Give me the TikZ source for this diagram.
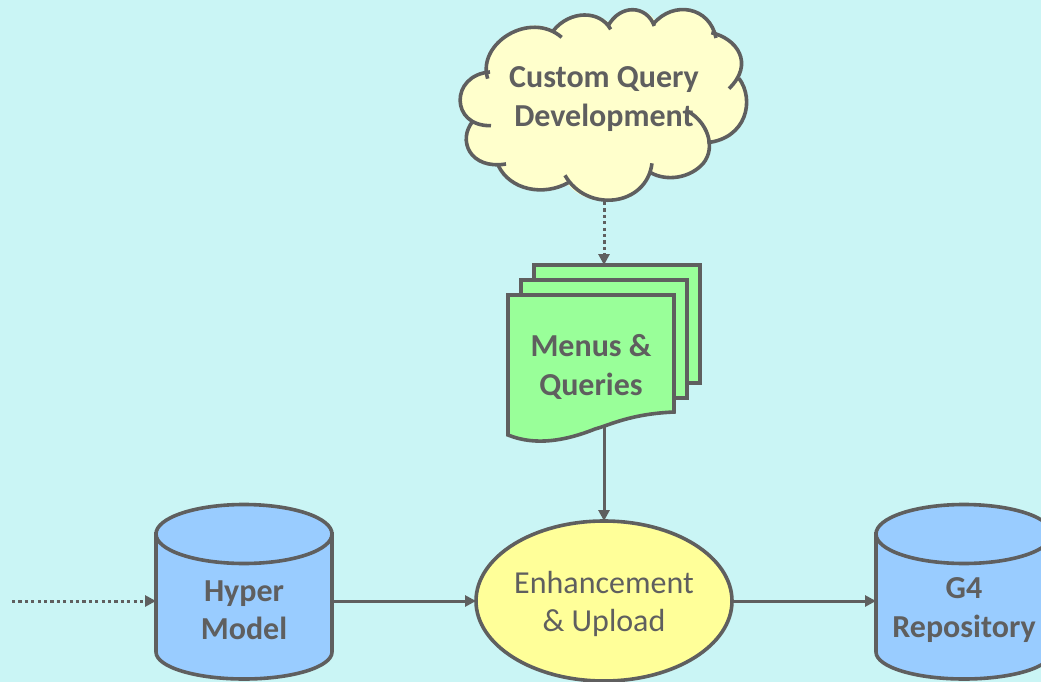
\documentclass[tikz,border=0pt]{standalone}
\usepackage{fontspec}
\setmainfont{Carlito}
\usetikzlibrary{arrows.meta,calc,shapes.geometric}
\definecolor{bgc}{HTML}{CAF5F5}
\definecolor{linec}{HTML}{5F5F5F}
\definecolor{cloudc}{HTML}{FFFFCC}
\definecolor{docc}{HTML}{99FF99}
\definecolor{cylc}{HTML}{99CCFF}
\definecolor{ellc}{HTML}{FFFF99}
\tikzset{
  shapeline/.style={draw=linec,line width=3.6pt,line join=miter},
  conn/.style={draw=linec,line width=3pt,-{Triangle[length=11pt,width=11pt]}},
  dotconn/.style={conn,dash pattern=on 3.2pt off 3.2pt},
  boldlabel/.style={text=linec,font=\fontsize{32}{38.5}\selectfont\bfseries,align=center,inner sep=0pt},
  plainlabel/.style={text=linec,font=\fontsize{32}{38.5}\selectfont,align=center,inner sep=0pt},
  ghost/.style={inner sep=0pt,outer sep=0pt,minimum width=176pt,minimum height=20pt,draw=none},
}
\begin{document}
\begin{tikzpicture}[x=1pt,y=-1pt]
\useasboundingbox (0,0) rectangle (1041,682);
\fill[bgc] (0,0) rectangle (1041,682);

% cloud (coordinates are those of a 3x crop)
\begin{scope}[shift={(440,0)},x=0.3333pt,y=-0.3333pt]
  \fill[cloudc] (140,225) .. controls (120,130) and (250,40) .. (345,92)
    .. controls (390,30) and (480,35) .. (510,72)
    .. controls (550,10) and (620,20) .. (645,62)
    .. controls (710,0) and (810,30) .. (820,98)
    .. controls (890,120) and (925,180) .. (897,235)
    .. controls (945,300) and (920,410) .. (805,428)
    .. controls (810,510) and (700,560) .. (632,518)
    .. controls (590,620) and (440,630) .. (380,548)
    .. controls (310,590) and (210,570) .. (175,497)
    .. controls (90,495) and (50,420) .. (100,365)
    .. controls (30,340) and (50,230) .. (140,220) -- cycle;
  \begin{scope}[draw=linec,line width=3.6pt,line cap=butt]
    \draw (143,236) .. controls (110,130) and (270,30) .. (365,112);
    \draw (340,92) .. controls (390,30) and (480,30) .. (512,88);
    \draw (503,80) .. controls (540,10) and (620,15) .. (643,78);
    \draw (640,72) .. controls (700,0) and (810,20) .. (828,114);
    \draw (814,98) .. controls (890,115) and (945,190) .. (867,266);
    \draw (897,235) .. controls (945,300) and (920,415) .. (802,428);
    \draw (745,335) .. controls (800,365) and (830,440) .. (790,490)
      .. controls (750,535) and (680,545) .. (632,518);
    \draw (636,490) .. controls (620,620) and (440,640) .. (375,526);
    \draw (385,548) .. controls (310,590) and (210,570) .. (175,497);
    \draw (198,492) .. controls (90,510) and (50,420) .. (100,362);
    \draw (153,377) .. controls (30,380) and (30,225) .. (150,216);
  \end{scope}
\end{scope}
\node[boldlabel] (cloud) at (604,99) {Custom Query\\Development};
\coordinate (cloudout) at (604,202);

% stacked documents
\path[shapeline,fill=docc] (534,265) -- (700,265) -- (700,383) -- (534,383) -- cycle;
\path[shapeline,fill=docc] (521,280) -- (687,280) -- (687,398) -- (521,398) -- cycle;
\path[shapeline,fill=docc] (508,295) -- (674,295) -- (674,412)
  .. controls (630,414) and (610,425) .. (595,429)
  .. controls (565,441) and (535,446) .. (508,435) -- cycle;
\node[boldlabel] (docs) at (591,367) {Menus \&\\Queries};
\coordinate (docstop) at (604,265);
\coordinate (docsout) at (604,427);

% enhancement
\node[shapeline,fill=ellc,ellipse,minimum width=256pt,minimum height=160pt,inner sep=0pt,outer sep=0pt] (enh) at (604,601) {};
\node[plainlabel] (enhtext) at (604,604) {Enhancement\\\& Upload};

% cylinders
\foreach \cx in {244,964}{
  \path[shapeline,fill=cylc] (\cx-88,534) -- (\cx-88,652)
    arc[start angle=180,end angle=0,x radius=88,y radius=27]
    -- (\cx+88,534) -- cycle;
  \path[shapeline,fill=cylc] (\cx,534) ellipse [x radius=88,y radius=29.5];
}
\node[ghost] (hyperbody) at (244,601) {};
\node[ghost] (gfourbody) at (964,601) {};
\node[boldlabel] (hyper) at (244,610) {Hyper\\Model};
\node[boldlabel] (gfour) at (964,610) {G4\\Repository};
\coordinate (src) at (12,601);

% connectors
\draw[dotconn] (cloudout) -- (docstop);
\draw[conn] (docsout) -- (enh.north);
\draw[dotconn] (src) -- (hyperbody.west);
\draw[conn] (hyperbody.east) -- (enh.west);
\draw[conn] (enh.east) -- (gfourbody.west);
\end{tikzpicture}
\end{document}
